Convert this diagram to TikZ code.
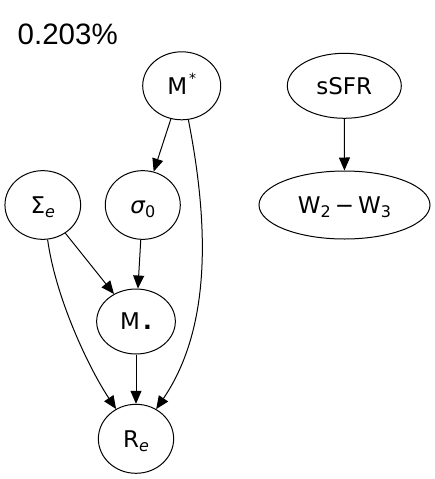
\documentclass[tikz,border=0pt]{standalone}
\usepackage{fontspec}
\setmainfont{DejaVu Sans}
\newfontfamily\titlefont{Liberation Sans}
\usetikzlibrary{shapes.geometric,arrows.meta}
\newcommand{\mysub}[1]{\raisebox{-4pt}{\fontsize{16}{16}\selectfont #1}}
\begin{document}
\begin{tikzpicture}[x=1pt,y=-1pt,
  nd/.style={draw,ellipse,line width=1pt,inner sep=0pt,text height=16.8pt,text depth=0pt,
     font=\fontsize{23}{27}\selectfont},
  arr/.style={line width=1pt,-{Triangle[length=13pt,width=11pt]}}]
\useasboundingbox (0,0) rectangle (435,479);
\node[anchor=base west,inner sep=0pt,font=\titlefont\fontsize{29.5}{32}\selectfont] (title) at (17.5,44.3) {0.203\%};
\node[nd,minimum width=78pt,minimum height=68pt] (mstar) at (181.7,85.8) {M\hspace{2pt}\raisebox{11pt}{\fontsize{14}{14}\selectfont *}};
\node[nd,minimum width=114pt,minimum height=65pt] (ssfr) at (344.3,85.8) {sSFR};
\node[nd,minimum width=75.7pt,minimum height=68.7pt] (sige) at (42.8,205) {Σ\mysub{\itshape e}};
\node[nd,minimum width=75pt,minimum height=68.7pt] (sig0) at (142.8,205) {{\itshape σ}\mysub{0}};
\node[nd,minimum width=171pt,minimum height=68pt] (w23) at (344.5,205) {W\mysub{2}\hspace{4pt}−\hspace{4pt}W\mysub{3}};
\node[nd,minimum width=78.7pt,minimum height=65pt] (mbh) at (136,321.5) {M\hspace{3pt}\textbf{.}};
\node[nd,minimum width=75.3pt,minimum height=69pt] (re) at (136,438.8) {R\mysub{\itshape e}};
\draw[arr] (mstar) -- (sig0);
\draw[arr] (ssfr) -- (w23);
\draw[arr] (sige) -- (mbh);
\draw[arr] (sig0) -- (mbh);
\draw[arr] (mbh) -- (re);
\draw[arr] (sige) .. controls (56,300) and (90,370) .. (re);
\draw[arr] (mstar) .. controls (210,230) and (210,330) .. (re);
\end{tikzpicture}
\end{document}
